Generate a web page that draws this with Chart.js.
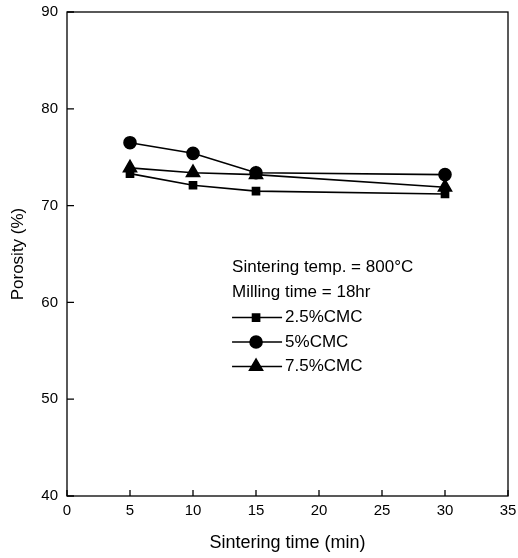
<!DOCTYPE html>
<html>
<head>
<meta charset="utf-8">
<script src="https://cdn.jsdelivr.net/npm/chart.js@4"></script>
<style>
html,body{margin:0;padding:0;background:#fff;}
#wrap{width:518px;height:558px;}
</style>
</head>
<body>
<div id="wrap"><canvas id="c"></canvas></div>
<script>
// sintering time (min)
const times=[5,10,15,30];
const cmc25=[73.3,72.1,71.5,71.2];
const cmc5=[76.5,75.4,73.4,73.2];
const cmc75=[73.9,73.4,73.2,71.9];
const xTicks=[0,5,10,15,20,25,30,35];
const yTicks=[40,50,60,70,80,90];
const noteLines=["Sintering temp. = 800°C","Milling time = 18hr"];

const FONT="'Liberation Sans', Arial, sans-serif";

function pts(vals){return times.map((t,i)=>({x:t,y:vals[i]}));}
function ds(label,vals,style,r){
  return {label:label,data:pts(vals),borderColor:'#000',backgroundColor:'#000',borderWidth:1.6,
    pointStyle:style,pointRadius:r,pointHoverRadius:r,tension:0,fill:false};
}

// frame + inward ticks + text legend
const extras={
  id:'extras',
  afterDraw(chart){
    const ctx=chart.ctx,a=chart.chartArea,xs=chart.scales.x,ys=chart.scales.y;
    ctx.save();
    ctx.strokeStyle='#000';ctx.lineWidth=1.3;
    ctx.strokeRect(a.left,a.top,a.right-a.left,a.bottom-a.top);
    ctx.beginPath();
    xTicks.forEach(v=>{const p=xs.getPixelForValue(v);ctx.moveTo(p,a.bottom);ctx.lineTo(p,a.bottom-6);});
    yTicks.forEach(v=>{const p=ys.getPixelForValue(v);ctx.moveTo(a.left,p);ctx.lineTo(a.left+7,p);});
    ctx.stroke();

    // legend box inside plot
    const lx=xs.getPixelForValue(13.1),ly=ys.getPixelForValue(63.6);
    ctx.fillStyle='#000';ctx.font='17px '+FONT;ctx.textBaseline='middle';ctx.textAlign='left';
    noteLines.forEach((t,i)=>ctx.fillText(t,lx,ly+i*25));
    chart.data.datasets.forEach((d,i)=>{
      const y=ly+50+i*24.5;
      ctx.lineWidth=1.6;ctx.beginPath();ctx.moveTo(lx,y);ctx.lineTo(lx+50,y);ctx.stroke();
      Chart.helpers.drawPoint(ctx,{pointStyle:d.pointStyle,radius:d.pointRadius,borderWidth:1},lx+24,y);
      ctx.fill();
      ctx.fillText(d.label,lx+53,y);
    });
    ctx.restore();
  }
};

new Chart(document.getElementById('c'),{
  type:'line',
  data:{datasets:[
    ds('2.5%CMC',cmc25,'rect',5),
    ds('5%CMC',cmc5,'circle',6),
    ds('7.5%CMC',cmc75,'triangle',7.5)
  ]},
  options:{
    responsive:true,maintainAspectRatio:false,animation:false,
    layout:{padding:{top:12,right:10,left:4,bottom:0}},
    plugins:{legend:{display:false},tooltip:{enabled:false}},
    scales:{
      x:{type:'linear',min:0,max:35,
        afterBuildTicks(s){s.ticks=xTicks.map(v=>({value:v}));},
        afterFit(s){s.height=62;s.paddingLeft=0;s.paddingRight=0;},
        grid:{display:false,drawTicks:false},border:{display:false},
        ticks:{color:'#000',padding:6,font:{family:FONT,size:15},maxRotation:0},
        title:{display:true,text:'Sintering time (min)',color:'#000',font:{family:FONT,size:18},padding:{top:11}}},
      y:{type:'linear',min:40,max:90,
        afterBuildTicks(s){s.ticks=yTicks.map(v=>({value:v}));},
        afterFit(s){s.width=63;s.paddingTop=0;s.paddingBottom=0;},
        grid:{display:false,drawTicks:false},border:{display:false},
        ticks:{color:'#000',padding:9,font:{family:FONT,size:15}},
        title:{display:true,text:'Porosity (%)',color:'#000',font:{family:FONT,size:17},padding:{bottom:0}}}
    }
  },
  plugins:[extras]
});
</script>
</body>
</html>
